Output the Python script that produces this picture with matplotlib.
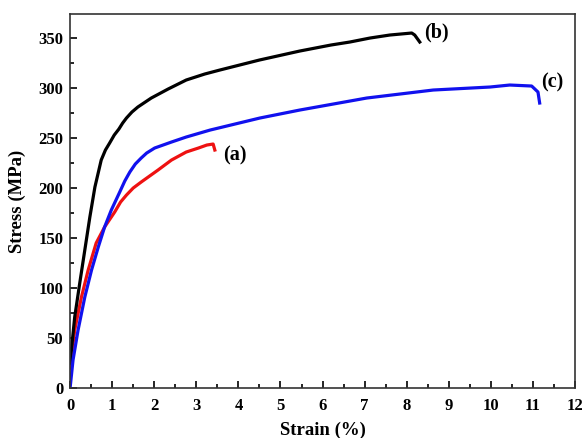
import numpy as np
import matplotlib.pyplot as plt
from matplotlib.ticker import MultipleLocator

plt.rcParams['font.family'] = ['Liberation Serif', 'DejaVu Serif']
plt.rcParams['font.weight'] = 'bold'

# stress-strain curves
strain_a = [0, 0.11, 0.27, 0.43, 0.62, 0.82, 1.06, 1.20, 1.34, 1.50, 1.69, 2.09, 2.41,
            2.76, 3.05, 3.25, 3.40, 3.44]
stress_a = [20, 58, 91, 118, 145, 161, 176, 186, 193, 200, 206, 218, 228,
            236, 240, 243, 244, 238]

strain_b = [0, 0.11, 0.23, 0.35, 0.47, 0.59, 0.74, 0.84, 0.94, 1.05, 1.16, 1.25, 1.34,
            1.47, 1.61, 1.93, 2.33, 2.76, 3.2, 3.56, 4.5, 5.46, 6.2, 6.65, 7.13, 7.60,
            8.12, 8.19, 8.31]
stress_b = [25, 71, 105, 138, 171, 201, 228, 238, 245, 253, 259, 265, 270,
            276, 281, 290, 299, 308, 314, 318, 328, 337, 343, 346, 350, 353,
            355, 353, 346]

strain_c = [0, 0.07, 0.19, 0.35, 0.51, 0.67, 0.82, 0.98, 1.18, 1.30, 1.42, 1.55, 1.69,
            1.82, 2.01, 2.41, 2.76, 3.33, 4.51, 5.46, 7.05, 8.63, 9.98, 10.45, 10.97,
            11.12, 11.16]
stress_c = [0, 28, 58, 91, 118, 141, 161, 178, 196, 207, 216, 224, 230,
            235, 240, 246, 251, 258, 270, 278, 290, 298, 301, 303, 302,
            296, 285]

labels = ['(a)', '(b)', '(c)']
label_pos = [(3.92, 233), (8.71, 356), (11.47, 306)]

fig = plt.figure(figsize=(5.84, 4.38), dpi=100)
ax = fig.add_axes([0.12, 0.114, 0.8646, 0.854])

ax.plot(strain_a, stress_a, color='#ee1111', lw=2.3, solid_joinstyle='round')
ax.plot(strain_b, stress_b, color='black', lw=2.3, solid_joinstyle='round')
ax.plot(strain_c, stress_c, color='#1111ee', lw=2.3, solid_joinstyle='round')

for lab, (x, y) in zip(labels, label_pos):
    ax.text(x, y, lab, fontsize=14.5, fontweight='bold', ha='center', va='center')

ax.set_xlim(0, 12)
ax.set_ylim(0, 374)
ax.xaxis.set_major_locator(MultipleLocator(1))
ax.xaxis.set_minor_locator(MultipleLocator(0.5))
ax.yaxis.set_major_locator(MultipleLocator(50))
ax.yaxis.set_minor_locator(MultipleLocator(25))
ax.tick_params(which='both', direction='in', top=False, right=False, width=1.2,
               labelsize=12)
ax.tick_params(which='major', length=5)
ax.tick_params(which='minor', length=3)
ax.tick_params(axis='x', which='major', pad=7)
ax.tick_params(axis='y', which='major', pad=5)
for s in ax.spines.values():
    s.set_linewidth(1.2)
    s.set_color('#333333')

ax.set_xlabel('Strain (%)', fontsize=13.5, fontweight='bold', labelpad=6)
ax.set_ylabel('Stress (MPa)', fontsize=13.5, fontweight='bold', labelpad=9)

fig.savefig('out.png', dpi=100)
